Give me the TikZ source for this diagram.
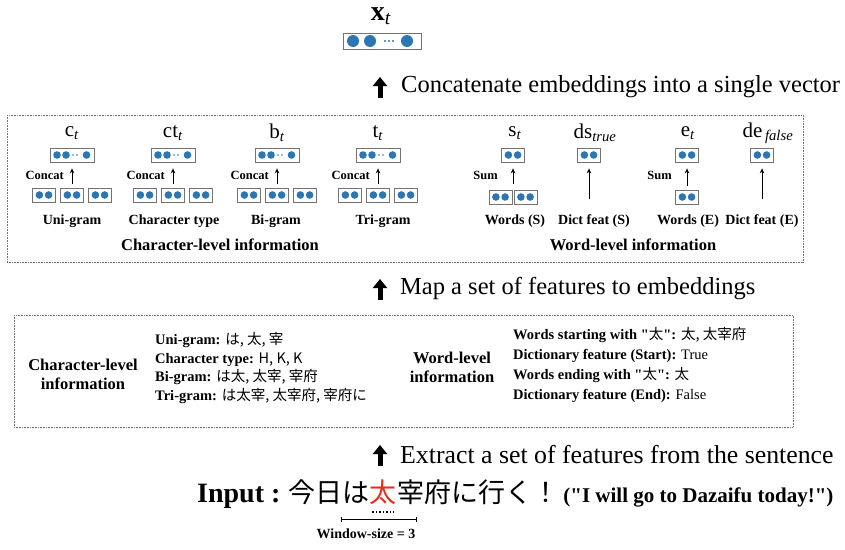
\documentclass[tikz,border=0pt]{standalone}
\usepackage{fontspec}
\setmainfont{Liberation Serif}[Ligatures=TeXOff]
\newfontfamily\jp{Noto Sans CJK JP}
\usetikzlibrary{calc,positioning,arrows.meta}

\definecolor{dotblue}{RGB}{45,118,180}
\definecolor{taired}{RGB}{232,45,30}

\newcommand{\fsz}[2]{\fontsize{#1}{#2}\selectfont}

\tikzset{
	vbox/.style={draw=black!55, fill=white, line width=0.8pt, inner sep=0pt},
	frame/.style={draw=black!55, line width=0.8pt, dash pattern=on 0.8pt off 0.8pt},
	thinarrow/.style={-{Stealth[length=5pt,width=4.5pt]}, line width=0.9pt},
	bigarrow/.style={-{Triangle[length=9pt,width=14pt]}, line width=5pt},
	stagetext/.style={anchor=west, inner sep=0pt, font=\fsz{24.5}{28}},
	symlab/.style={inner sep=0pt, font=\fsz{21}{24}},
	oplab/.style={anchor=east, inner sep=0pt, font=\fsz{12.5}{14}\bfseries},
	featlab/.style={inner sep=0pt, font=\fsz{14}{16}\bfseries},
	grouplab/.style={inner sep=0pt, font=\fsz{16.5}{19}\bfseries, align=center},
}

% vector with two units
\newcommand{\twovec}[2]{
	\node[vbox, minimum width=23pt, minimum height=14pt] (#1) at (#2) {};
	\fill[dotblue] ($(#1)+(-4.6,0)$) circle (3.8pt) ($(#1)+(4.6,0)$) circle (3.8pt);
}
% longer vector with dots
\newcommand{\longvec}[2]{
	\node[vbox, minimum width=44pt, minimum height=14pt] (#1) at (#2) {};
	\fill[dotblue] ($(#1)+(-15,0)$) circle (3.8pt) ($(#1)+(-6,0)$) circle (3.8pt)
		($(#1)+(1,0)$) circle (0.9pt) ($(#1)+(5,0)$) circle (0.9pt)
		($(#1)+(14.5,0)$) circle (3.8pt);
}
% concat group of the character level
\newcommand{\chargroup}[2]{
	\longvec{#1top}{#2,155}
	\twovec{#1a}{#2-28,195}
	\twovec{#1b}{#2,195}
	\twovec{#1c}{#2+28,195}
	\node[oplab] (#1op) at (#2-8,175) {Concat};
	\draw[thinarrow, shorten <=4pt, shorten >=6pt] (#1b) -- (#1top);
}

\begin{document}
\begin{tikzpicture}[x=1pt, y=-1pt]
			%%%%% START %%%%%
			\useasboundingbox (0,0) rectangle (845,549);
			
			% output vector
			\node[inner sep=0pt, font=\fsz{28}{30}] (xlab) at (381,16) {\textbf{x}\textsubscript{\textit{t}}};
			\node[vbox, minimum width=78pt, minimum height=16pt] (xvec) at (382,41) {};
			\fill[dotblue] ($(xvec)+(-29,0)$) circle (6pt) ($(xvec)+(-12,0)$) circle (6pt)
				($(xvec)+(3,0)$) circle (1.1pt) ($(xvec)+(7,0)$) circle (1.1pt) ($(xvec)+(11,0)$) circle (1.1pt)
				($(xvec)+(25,0)$) circle (6pt);
			
			\coordinate (catlo) at (380,98);
			\coordinate (cathi) at (380,77);
			\draw[bigarrow] (catlo) -- (cathi);
			\node[stagetext] (cattext) at (401,87) {Concatenate embeddings into a single vector};
			
			% embeddings
			\draw[frame] (7,115) rectangle (803,262);
			
			\node[symlab] (clab) at (72,133) {c\textsubscript{\textit{t}}};
			\node[symlab] (ctlab) at (173,133) {ct\textsubscript{\textit{t}}};
			\node[symlab] (blab) at (277,133) {b\textsubscript{\textit{t}}};
			\node[symlab] (tlab) at (378,133) {t\textsubscript{\textit{t}}};
			
			\chargroup{uni}{72}
			\chargroup{ctype}{173}
			\chargroup{bi}{277}
			\chargroup{tri}{378}
			
			\node[featlab] (unilab) at (72,221) {Uni-gram};
			\node[featlab] (ctypelab) at (174,221) {Character type};
			\node[featlab] (bilab) at (276,221) {Bi-gram};
			\node[featlab] (trilab) at (383,221) {Tri-gram};
			\node[grouplab] (chargroup) at (220,245) {Character-level information};
			
			\node[symlab] (slab) at (515,133) {s\textsubscript{\textit{t}}};
			\node[symlab] (dslab) at (595,133) {ds\textsubscript{\textit{true}}};
			\node[symlab] (elab) at (688,133) {e\textsubscript{\textit{t}}};
			\node[symlab] (delab) at (768,133) {de\textsubscript{\textit{\,false}}};
			
			\twovec{stop}{513,155}
			\twovec{sa}{500.5,197}
			\twovec{sb}{525.5,197}
			\coordinate (sfoot) at (513,184);
			\node[oplab] (sop) at (498,175) {Sum};
			\draw[thinarrow, shorten >=6pt] (sfoot) -- (stop);
			
			\twovec{dstop}{589,155}
			\coordinate (dsfoot) at (589,199);
			\draw[thinarrow, shorten >=6pt] (dsfoot) -- (dstop);
			
			\twovec{etop}{687,155}
			\twovec{ebot}{687,197}
			\node[oplab] (eop) at (672,175) {Sum};
			\draw[thinarrow, shorten <=4pt, shorten >=6pt] (ebot) -- (etop);
			
			\twovec{detop}{762,155}
			\coordinate (defoot) at (762,199);
			\draw[thinarrow, shorten >=6pt] (defoot) -- (detop);
			
			\node[featlab] (wslab) at (515,221) {Words (S)};
			\node[featlab] (dslab2) at (594,221) {Dict feat (S)};
			\node[featlab] (welab) at (688,221) {Words (E)};
			\node[featlab] (delab2) at (762,221) {Dict feat (E)};
			\node[grouplab] (wordgroup) at (633,245) {Word-level information};
			
			\coordinate (maplo) at (380,300);
			\coordinate (maphi) at (380,279);
			\draw[bigarrow] (maplo) -- (maphi);
			\node[stagetext] (maptext) at (400,289) {Map a set of features to embeddings};
			
			% features
			\draw[frame] (14,315) rectangle (793,427);
			
			\node[grouplab] (charinfo) at (83,374) {Character-level\\information};
			\node[anchor=west, align=left, inner sep=0pt, font=\fsz{14.5}{18.7}] (charlist) at (155,368) {%
				\textbf{Uni-gram:} {\jp は, 太, 宰}\\
				\textbf{Character type:} {\jp H, K, K}\\
				\textbf{Bi-gram:} {\jp は太, 太宰, 宰府}\\
				\textbf{Tri-gram:} {\jp は太宰, 太宰府, 宰府に}};
			
			\node[grouplab] (wordinfo) at (452,367) {Word-level\\information};
			\node[anchor=west, align=left, inner sep=0pt, font=\fsz{14.5}{20}] (wordlist) at (513,365) {%
				\textbf{Words starting with "{\mdseries\jp 太}":} {\jp 太, 太宰府}\\
				\textbf{Dictionary feature (Start):} True\\
				\textbf{Words ending with "{\mdseries\jp 太}":} {\jp 太}\\
				\textbf{Dictionary feature (End):} False};
			
			\coordinate (extlo) at (380,466);
			\coordinate (exthi) at (380,445);
			\draw[bigarrow] (extlo) -- (exthi);
			\node[stagetext, font=\fsz{25.8}{28}] (exttext) at (400,455) {Extract a set of features from the sentence};
			
			% input sentence
			\node[anchor=base west, inner sep=0pt, font=\fsz{28}{30}\bfseries] (inlab) at (197,502) {Input :};
			\node[anchor=base west, inner sep=0pt, font=\fsz{27}{30}\jp] (jpa) at (288,502) {今日は};
			\node[base right=0pt of jpa, inner sep=0pt, font=\fsz{27}{30}\jp, text=taired] (tai) {太};
			\node[base right=0pt of tai, inner sep=0pt, font=\fsz{27}{30}\jp] (jpb) {宰府に行く！};
			\node[base right=4pt of jpb, inner sep=0pt, font=\fsz{21}{24}\bfseries] (eng) {("I will go to Dazaifu today!")};
			
			\coordinate (dotl) at ($(tai.base west)+(3,10)$);
			\coordinate (dotr) at ($(tai.base east)+(-3,10)$);
			\draw[line width=1.3pt, dash pattern=on 1.3pt off 2.2pt] (dotl) -- (dotr);
			
			\coordinate (winl) at ($(tai.base west)+(-28,17)$);
			\coordinate (winr) at ($(tai.base east)+(20,17)$);
			\draw[{Bar[width=5pt]}-{Bar[width=5pt]}, line width=0.8pt] (winl) -- (winr);
			\node[inner sep=0pt, font=\fsz{14}{16}\bfseries] (winlab) at (366,534) {Window-size = 3};
			
			%%%%% END %%%%%
\end{tikzpicture}
\end{document}
